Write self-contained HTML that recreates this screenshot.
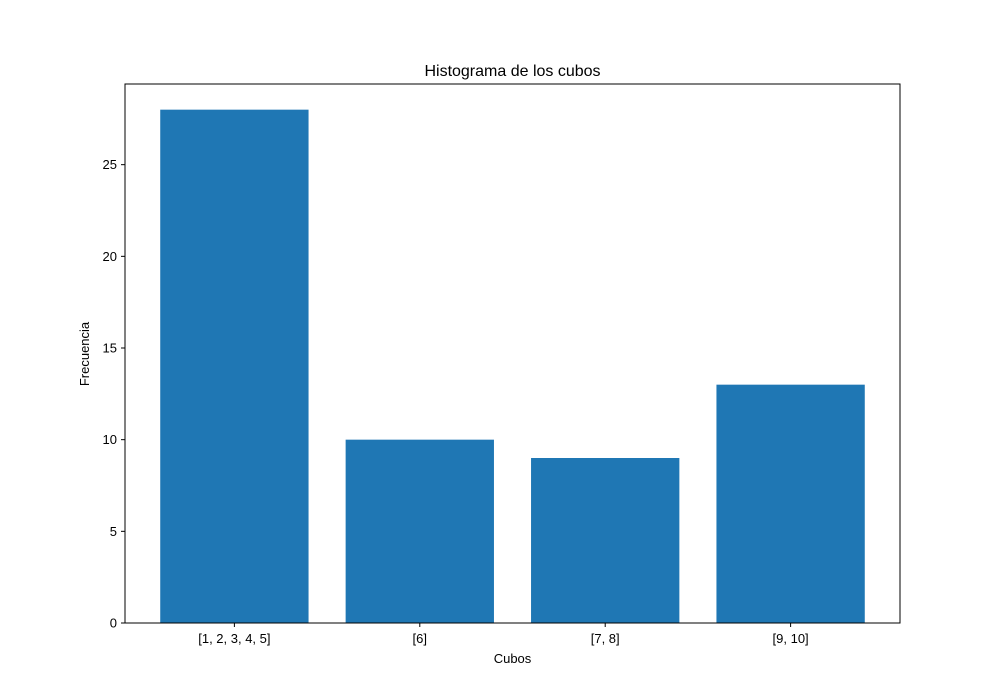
<!DOCTYPE html>
<html><head><meta charset="utf-8"><style>
body{margin:0;background:#fff;}
svg{display:block;font-family:"Liberation Sans","DejaVu Sans",sans-serif;}
</style></head><body>
<svg id="chart" width="1000" height="700">
<rect x="0" y="0" width="1000" height="700" fill="#fff"/>
<text x="512.5" y="76" text-anchor="middle" font-size="16">Histograma de los cubos</text>
<g id="bars"></g>
<g id="xticks"></g>
<g id="yticks"></g>
<rect x="125" y="84" width="775" height="539" fill="none" stroke="#000" stroke-width="1"/>
<text x="512.5" y="663" text-anchor="middle" font-size="13">Cubos</text>
<text x="0" y="0" transform="translate(89,354) rotate(-90)" text-anchor="middle" font-size="13">Frecuencia</text>
</svg>
<script>
const categories=["[1, 2, 3, 4, 5]","[6]","[7, 8]","[9, 10]"];
const values=[28,10,9,13];
const yTicks=[0,5,10,15,20,25];
const L=125,R=900,T=84,B=623;
const ns="http://www.w3.org/2000/svg";
const n=categories.length;
const xmin=-0.4-0.05*(n-1+0.8),xmax=n-1+0.4+0.05*(n-1+0.8);
const ymax=Math.max(...values)*1.05;
const xs=v=>L+(v-xmin)/(xmax-xmin)*(R-L);
const ys=v=>B-v/ymax*(B-T);
function mk(tag,attrs,parent){const e=document.createElementNS(ns,tag);for(const k in attrs)e.setAttribute(k,attrs[k]);parent.appendChild(e);return e;}
const bars=document.getElementById('bars'),xt=document.getElementById('xticks'),yt=document.getElementById('yticks');
values.forEach((v,i)=>{
 const r=mk('rect',{x:xs(i-0.4),y:ys(v),width:xs(i+0.4)-xs(i-0.4),height:B-ys(v),fill:'#1f77b4'},bars);
 
 
 const t=mk('line',{x1:xs(i),x2:xs(i),y1:B,y2:B+4,stroke:'#000'},xt);
 
 
 const l=mk('text',{x:xs(i),y:B+20,'text-anchor':'middle','font-size':'13'},xt);
 l.textContent=categories[i];
 
 
});
yTicks.forEach(v=>{
 const t=mk('line',{x1:L-4,x2:L,y1:ys(v),y2:ys(v),stroke:'#000'},yt);
 
 
 const l=mk('text',{x:L-8,y:ys(v)+4.5,'text-anchor':'end','font-size':'13'},yt);
 l.textContent=v;
 
 
});
</script>
</body></html>
